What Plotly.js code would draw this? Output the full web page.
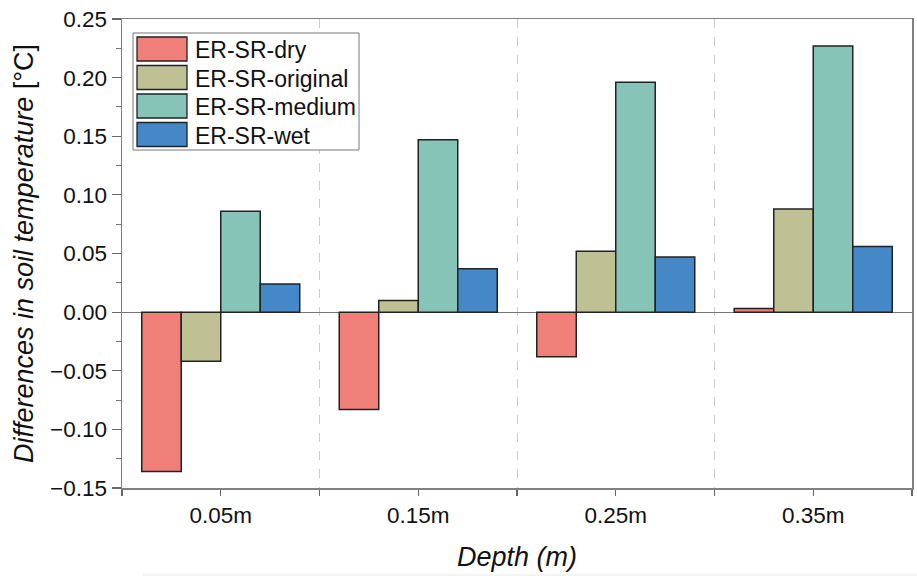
<!DOCTYPE html>
<html>
<head>
<meta charset="utf-8">
<script src="https://cdn.plot.ly/plotly-3.0.1.min.js"></script>
<style>html,body{margin:0;padding:0;background:#fff;}#chart{width:917px;height:578px;}</style>
</head>
<body>
<div id="chart"></div>
<script>
const categories = ["0.05m", "0.15m", "0.25m", "0.35m"];
const seriesNames = ["ER-SR-dry", "ER-SR-original", "ER-SR-medium", "ER-SR-wet"];
const dryValues = [-0.136, -0.083, -0.038, 0.003];
const originalValues = [-0.042, 0.010, 0.052, 0.088];
const mediumValues = [0.086, 0.147, 0.196, 0.227];
const wetValues = [0.024, 0.037, 0.047, 0.056];
const seriesColors = ["#F07F7A", "#BFC194", "#85C4B7", "#4488C8"];

const allValues = [dryValues, originalValues, mediumValues, wetValues];
const xIdx = categories.map((c, i) => i);
const FONT = "Liberation Sans, Arial, sans-serif";

const traces = allValues.map((vals, k) => ({
  type: "bar",
  name: seriesNames[k],
  x: xIdx,
  y: vals,
  marker: {color: seriesColors[k], line: {color: "#222222", width: 1.5}},
  showlegend: false,
  hoverinfo: "x+y"
}));

// plot-area geometry (pixels) for a custom legend with large swatches
const ML = 122, MR = 5, MT = 19, MB = 90, W = 917, H = 578;
const PW = W - ML - MR, PH = H - MT - MB;
const px = v => (v - ML) / PW;
const py = v => (H - MB - v) / PH;

const shapes = [];
const annotations = [];
const lgLeft = 133, lgTop = 33, lgRight = 359, lgBottom = 150;
shapes.push({type: "rect", xref: "paper", yref: "paper", x0: px(lgLeft), x1: px(lgRight), y0: py(lgBottom), y1: py(lgTop),
  line: {color: "#777777", width: 1}, fillcolor: "#ffffff", layer: "above"});
seriesNames.forEach((nm, k) => {
  const cy = 49 + k * 28.5;
  shapes.push({type: "rect", xref: "paper", yref: "paper", x0: px(137), x1: px(187), y0: py(cy + 12), y1: py(cy - 12),
    line: {color: "#222222", width: 1.3}, fillcolor: seriesColors[k], layer: "above"});
  annotations.push({xref: "paper", yref: "paper", x: px(193), y: py(cy + 1), xanchor: "left", yanchor: "middle",
    text: nm, showarrow: false, font: {family: FONT, size: 23, color: "#111111"}});
});
// faint line at the bottom of the figure
shapes.push({type: "line", xref: "paper", yref: "paper", x0: px(143), x1: px(917), y0: py(575), y1: py(575),
  line: {color: "#e6e6e6", width: 1}});

const layout = {
  width: W, height: H,
  margin: {l: ML, r: MR, t: MT, b: MB},
  paper_bgcolor: "#ffffff", plot_bgcolor: "#ffffff",
  barmode: "group", bargap: 0.2, bargroupgap: 0,
  font: {family: FONT, size: 22, color: "#111111"},
  xaxis: {
    type: "linear", range: [-0.5, 3.5],
    tickmode: "array", tickvals: xIdx, ticktext: categories,
    ticks: "outside", ticklen: 6, tickwidth: 1.2, tickcolor: "#666666",
    showline: true, linecolor: "#808080", linewidth: 1.5, mirror: true,
    showgrid: false, zeroline: false,
    tickfont: {family: FONT, size: 22.5, color: "#111111"},
    minor: {tick0: -0.5, dtick: 1, ticks: "outside", ticklen: 6, tickwidth: 1.2, tickcolor: "#666666",
      showgrid: true, gridcolor: "#cccccc", griddash: "dash", gridwidth: 1},
    title: {text: "<i>Depth (m)</i>", font: {family: FONT, size: 27, color: "#111111"}, standoff: 20}
  },
  yaxis: {
    range: [-0.15, 0.25], tick0: 0, dtick: 0.05, tickformat: ".2f",
    ticks: "outside", ticklen: 9, tickwidth: 1.2, tickcolor: "#666666",
    showline: true, linecolor: "#808080", linewidth: 1.5, mirror: true,
    showgrid: false, zeroline: true, zerolinecolor: "#777777", zerolinewidth: 1.2,
    tickfont: {family: FONT, size: 22.5, color: "#111111"},
    minor: {dtick: 0.025, ticks: "outside", ticklen: 5, tickwidth: 1, tickcolor: "#777777", showgrid: false},
    title: {text: "<i>Differences in soil temperature</i> [°C]", font: {family: FONT, size: 27, color: "#111111"}, standoff: 8}
  },
  shapes: shapes,
  annotations: annotations
};

Plotly.newPlot("chart", traces, layout, {displayModeBar: false, staticPlot: true});
</script>
</body>
</html>
